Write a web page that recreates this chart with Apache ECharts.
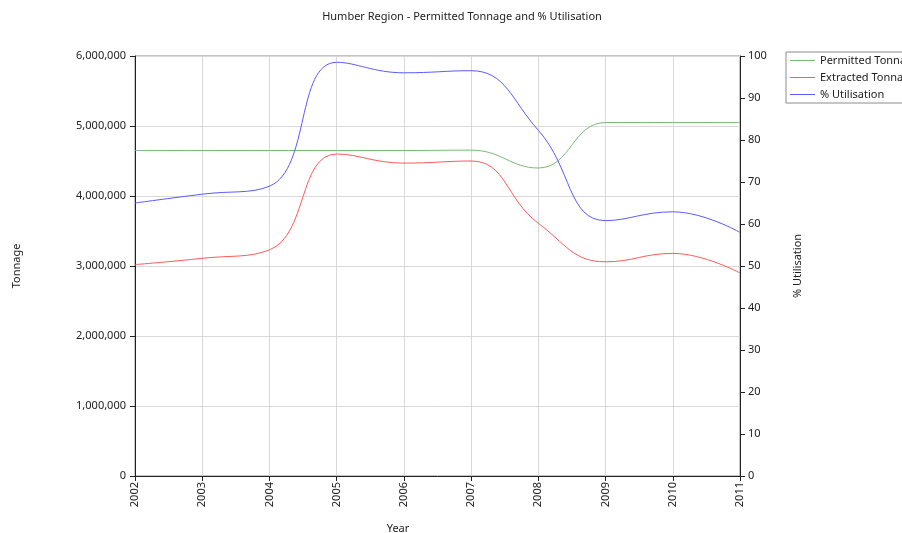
<!DOCTYPE html>
<html>
<head>
<meta charset="utf-8">
<script src="https://cdn.jsdelivr.net/npm/echarts@6/dist/echarts.min.js"></script>
<style>
html,body{margin:0;padding:0;background:#fff;}
#chart{width:902px;height:533px;}
</style>
</head>
<body>
<div id="chart"></div>
<script>
var years = ['2002','2003','2004','2005','2006','2007','2008','2009','2010','2011'];
var permittedTonnage = [4650000,4650000,4650000,4650000,4650000,4655000,4400000,5050000,5050000,5050000];
var extractedTonnage = [3020000,3110000,3230000,4600000,4470000,4500000,3610000,3060000,3180000,2900000];
var utilisation = [65,67.1,69,98.5,96,96.5,82.3,60.8,62.9,58];
var seriesNames = ['Permitted Tonnage','Extracted Tonnage','% Utilisation'];
var seriesColors = ['#77bb77','#ff5a5a','#5a5aff'];

var FONT = 'Noto Sans';
var chart = echarts.init(document.getElementById('chart'));
function fmt(v){ return v.toString().replace(/\B(?=(\d{3})+(?!\d))/g, ','); }

chart.setOption({
  animation: false,
  backgroundColor: '#fff',
  textStyle: { fontFamily: FONT },
  grid: { left: 135, right: 162, top: 56, bottom: 57, show: true, borderColor: '#8c8c8c', borderWidth: 1 },
  legend: {
    orient: 'vertical', left: 786, top: 52,
    itemWidth: 25, itemHeight: 1, itemGap: 6, icon: 'rect',
    padding: [3, 6, 3, 4],
    borderColor: '#8c8c8c', borderWidth: 1,
    textStyle: { fontFamily: FONT, fontSize: 11, color: '#222' },
    data: seriesNames.map(function(n, i){ return { name: n, itemStyle: { color: seriesColors[i] } }; })
  },
  graphic: [
    { type: 'text', x: 462, y: 17, style: { text: 'Humber Region - Permitted Tonnage and % Utilisation', font: '11px "Noto Sans"', fill: '#222', textAlign: 'center', textVerticalAlign: 'middle' } },
    { type: 'text', x: 398, y: 529, style: { text: 'Year', font: '11px "Noto Sans"', fill: '#222', textAlign: 'center', textVerticalAlign: 'middle' } }
  ],
  xAxis: {
    type: 'category', data: years, boundaryGap: false,
    axisLine: { lineStyle: { color: '#222', width: 1 } },
    axisTick: { show: true, length: 5, lineStyle: { color: '#222' } },
    axisLabel: { rotate: 90, fontSize: 11, color: '#222', margin: 6, fontFamily: FONT },
    splitLine: { show: true, lineStyle: { color: '#d9d9d9', width: 1 } }
  },
  yAxis: [
    {
      type: 'value', min: 0, max: 6000000, interval: 1000000,
      name: 'Tonnage', nameLocation: 'middle', nameGap: 113,
      nameTextStyle: { fontSize: 11, color: '#222', fontFamily: FONT },
      axisLine: { show: true, lineStyle: { color: '#222', width: 1 } },
      axisTick: { show: true, length: 5, lineStyle: { color: '#222' } },
      axisLabel: { fontSize: 11, color: '#222', margin: 9, fontFamily: FONT, formatter: function(v){ return fmt(v); } },
      splitLine: { show: true, lineStyle: { color: '#d9d9d9', width: 1 } }
    },
    {
      type: 'value', min: 0, max: 100, interval: 10, position: 'right',
      name: '% Utilisation', nameLocation: 'middle', nameGap: 52,
      nameTextStyle: { fontSize: 11, color: '#222', fontFamily: FONT },
      axisLine: { show: true, lineStyle: { color: '#222', width: 1 } },
      axisTick: { show: true, length: 5, lineStyle: { color: '#222' } },
      axisLabel: { fontSize: 11, color: '#222', margin: 8, fontFamily: FONT },
      splitLine: { show: false }
    }
  ],
  series: [
    { name: seriesNames[0], type: 'line', data: permittedTonnage, yAxisIndex: 0, smooth: 0.45, symbol: 'none',
      lineStyle: { color: seriesColors[0], width: 1 }, itemStyle: { color: seriesColors[0] } },
    { name: seriesNames[1], type: 'line', data: extractedTonnage, yAxisIndex: 0, smooth: 0.45, symbol: 'none',
      lineStyle: { color: seriesColors[1], width: 1 }, itemStyle: { color: seriesColors[1] } },
    { name: seriesNames[2], type: 'line', data: utilisation, yAxisIndex: 1, smooth: 0.45, symbol: 'none',
      lineStyle: { color: seriesColors[2], width: 1 }, itemStyle: { color: seriesColors[2] } }
  ]
});
</script>
</body>
</html>
